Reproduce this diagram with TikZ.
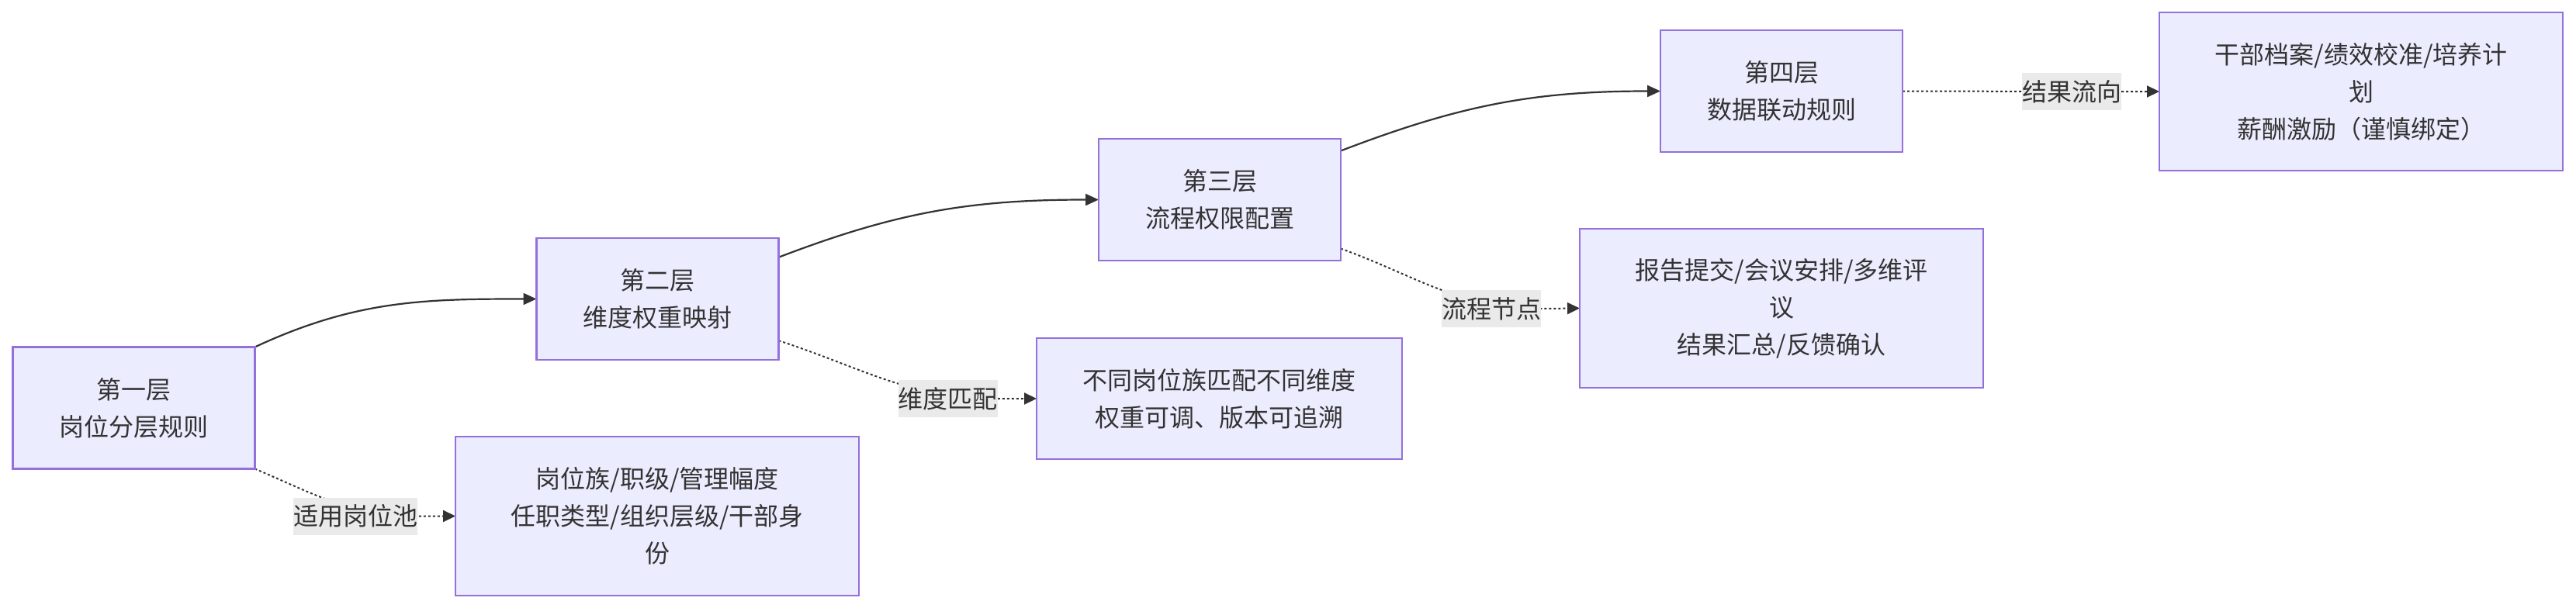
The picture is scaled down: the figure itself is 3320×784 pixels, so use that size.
\documentclass[tikz,border=0pt]{standalone}
\usepackage{fontspec}
\setmainfont{Noto Sans CJK SC}
\usetikzlibrary{arrows.meta,backgrounds}
\definecolor{nodefill}{HTML}{ECECFF}
\definecolor{nodeborder}{HTML}{9370DB}
\definecolor{txt}{HTML}{333333}
\definecolor{edgec}{HTML}{333333}
\definecolor{lblbg}{HTML}{EAEAEA}
\tikzset{
  box/.style={draw=nodeborder, fill=nodefill, line width=2.5pt, text=txt,
    align=center, font=\fontsize{32}{48}\selectfont, inner sep=0pt, outer sep=0pt},
  layerbox/.style={box, minimum width=312pt, minimum height=157pt},
  lbl/.style={fill=lblbg, text=txt, font=\fontsize{32}{48}\selectfont,
    inner xsep=0pt, inner ysep=0pt, minimum height=48pt},
  flow/.style={draw=edgec, line width=2.2pt, -{Triangle[length=17pt,width=15pt]}},
  dotflow/.style={draw=edgec, line width=2pt, dash pattern=on 3pt off 3pt,
    -{Triangle[length=16pt,width=15pt]}}
}
\begin{document}
\begin{tikzpicture}[x=1pt,y=1pt]
\useasboundingbox (0,0) rectangle (3320,-784);
% main layers
\node[layerbox] (n1) at (172.5,-526) {第一层\\岗位分层规则};
\node[layerbox] (n2) at (847.5,-385.5) {第二层\\维度权重映射};
\node[layerbox] (n3) at (1572,-257.5) {第三层\\流程权限配置};
\node[layerbox] (n4) at (2296,-117.5) {第四层\\数据联动规则};
% detail boxes
\node[box, minimum width=520pt, minimum height=205pt] (d1) at (847,-665.5)
  {岗位族/职级/管理幅度\\任职类型/组织层级/干部身\\份};
\node[box, minimum width=471pt, minimum height=156pt] (d2) at (1571.5,-514)
  {不同岗位族匹配不同维度\\权重可调、版本可追溯};
\node[box, minimum width=520pt, minimum height=205pt] (d3) at (2296,-397.5)
  {报告提交/会议安排/多维评\\议\\结果汇总/反馈确认};
\node[box, minimum width=520pt, minimum height=204pt] (d4) at (3043,-118)
  {干部档案/绩效校准/培养计\\划\\薪酬激励（谨慎绑定）};
% edge labels
\node[lbl] (l1) at (458,-665.5) {适用岗位池};
\node[lbl] (l2) at (1221.5,-514) {维度匹配};
\node[lbl] (l3) at (1922,-398) {流程节点};
\node[lbl] (l4) at (2670,-118) {结果流向};
\begin{scope}[on background layer]
\fill[white] (0,0) rectangle (3320,-784);
\draw[flow] (n1.north east) to[out=25,in=180] (n2.west);
\draw[flow] (n2.19) to[out=21,in=180] (n3.west);
\draw[flow] (n3.22) to[out=21,in=180] (n4.west);
\draw[dotflow] (n1.south east) to[out=-23,in=180] (l1.east) -- (d1.west);
\draw[dotflow] (n2.-19) to[out=-18,in=180] (l2.east) -- (d2.west);
\draw[dotflow] (n3.-22) to[out=-20,in=180] (l3.east) -- (d3.west);
\draw[dotflow] (n4.east) -- (l4.center) -- (d4.west);
\end{scope}
\end{tikzpicture}
\end{document}
